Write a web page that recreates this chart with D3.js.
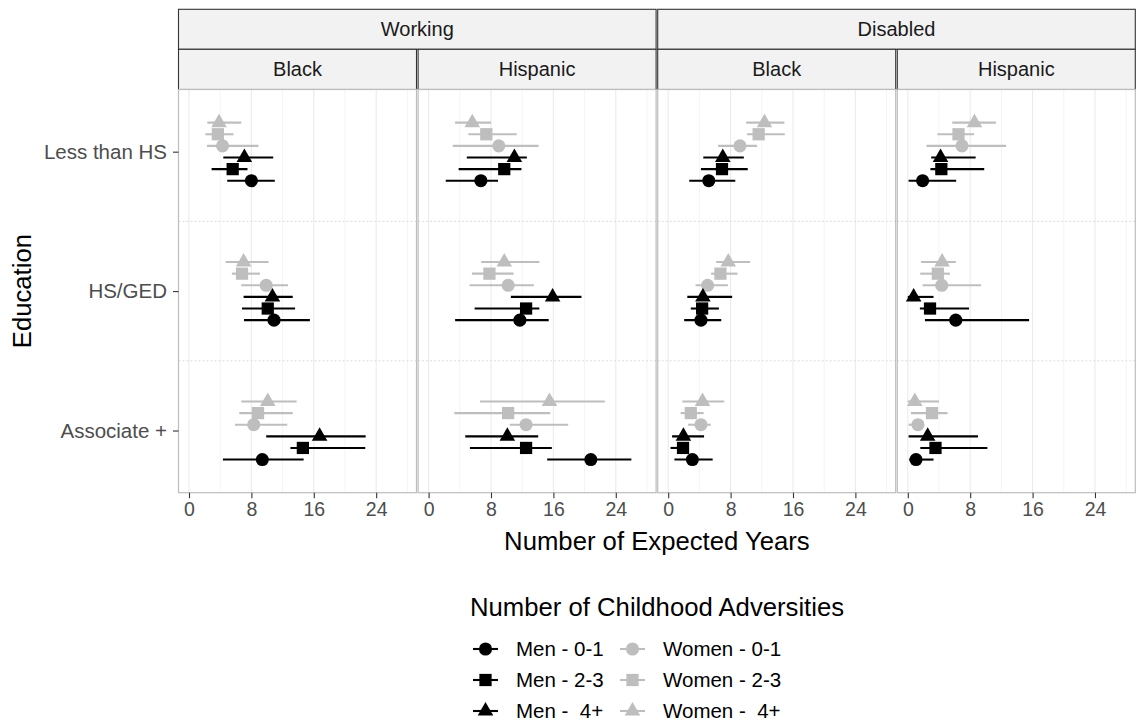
<!DOCTYPE html>
<html>
<head>
<meta charset="utf-8">
<script src="https://cdn.jsdelivr.net/npm/d3@7"></script>
<style>
  body { margin: 0; background: #fff; }
  svg { font-family: "Liberation Sans", Arial, sans-serif; }
  text { white-space: pre; }
</style>
</head>
<body>
<svg id="chart" width="1139" height="724"></svg>
<script>
// facet levels and categories
const status = ["Working", "Disabled"];
const race = ["Black", "Hispanic"];
const education = ["Less than HS", "HS/GED", "Associate +"];
const groups = ["Men - 0-1", "Men - 2-3", "Men -  4+", "Women - 0-1", "Women - 2-3", "Women -  4+"];
const xTicks = [0, 8, 16, 24];

// estimates and interval bounds, rows = education, columns = groups
const workingBlackEst = [[8.0, 5.6, 7.1, 4.3, 3.7, 3.85], [10.9, 10.1, 10.7, 9.9, 6.8, 7.0], [9.4, 14.6, 16.75, 8.3, 8.85, 10.1]];
const workingBlackLo  = [[4.9, 2.9, 4.4, 2.3, 2.1, 2.35], [7.05, 6.8, 7.0, 6.7, 5.5, 4.7], [4.35, 13.0, 9.9, 5.9, 6.45, 6.7]];
const workingBlackHi  = [[11.0, 7.5, 10.8, 8.9, 5.7, 6.7], [15.5, 13.6, 13.3, 12.7, 9.1, 10.2], [14.7, 22.6, 22.65, 12.6, 13.3, 13.8]];

const workingHispEst = [[6.7, 9.7, 11.0, 9.0, 7.4, 5.6], [11.7, 12.5, 15.9, 10.2, 7.8, 9.7], [20.8, 12.5, 10.1, 12.5, 10.2, 15.5]];
const workingHispLo  = [[2.2, 3.85, 4.9, 3.1, 5.1, 3.4], [3.4, 5.9, 10.55, 5.25, 5.55, 6.75], [15.2, 5.3, 4.7, 10.4, 3.3, 6.6]];
const workingHispHi  = [[8.9, 11.9, 12.6, 14.1, 11.3, 8.0], [15.4, 14.2, 19.6, 13.5, 10.9, 14.2], [26.0, 15.8, 14.05, 17.9, 15.6, 22.6]];

const disabledBlackEst = [[5.2, 6.9, 7.0, 9.2, 11.6, 12.35], [4.2, 4.35, 4.45, 5.05, 6.7, 7.7], [3.1, 1.9, 1.95, 4.2, 2.9, 4.4]];
const disabledBlackLo  = [[2.7, 4.2, 4.5, 6.4, 10.1, 10.0], [2.05, 2.9, 2.45, 3.5, 5.5, 6.15], [0.8, 0.3, 0.5, 2.55, 1.6, 1.8]];
const disabledBlackHi  = [[8.6, 10.2, 9.7, 11.4, 14.95, 14.9], [6.8, 6.5, 8.2, 7.65, 8.9, 10.5], [5.7, 2.6, 4.6, 5.45, 4.55, 7.2]];

const disabledHispEst = [[1.9, 4.3, 4.2, 6.95, 6.5, 8.55], [6.15, 2.85, 0.75, 4.35, 3.85, 4.4], [1.05, 3.55, 2.55, 1.3, 3.1, 0.9]];
const disabledHispLo  = [[0.1, 2.9, 3.0, 2.4, 3.8, 5.7], [2.2, 1.55, 0.0, 1.9, 1.6, 1.7], [0.2, 1.6, 0.1, 0.1, 0.4, 0.0]];
const disabledHispHi  = [[6.2, 9.8, 8.7, 12.6, 8.5, 11.3], [15.55, 7.85, 3.3, 9.4, 5.4, 6.15], [3.3, 10.2, 9.0, 1.85, 5.1, 4.0]];

const panels = [
  { status: "Working", race: "Black", est: workingBlackEst, lo: workingBlackLo, hi: workingBlackHi },
  { status: "Working", race: "Hispanic", est: workingHispEst, lo: workingHispLo, hi: workingHispHi },
  { status: "Disabled", race: "Black", est: disabledBlackEst, lo: disabledBlackLo, hi: disabledBlackHi },
  { status: "Disabled", race: "Hispanic", est: disabledHispEst, lo: disabledHispLo, hi: disabledHispHi }
];

// layout
const panelLeft = 178.5, panelTop = 89.5, panelW = 238, panelH = 403.2, gap = 1.6;
const stripTop = 9.3, stripH = 40;

const svg = d3.select("#chart");

const x = d3.scaleLinear().domain([-1.346, 29.17]).range([0, panelW]);
const y = d3.scalePoint().domain(education).range([0, panelH]).padding(0.446);
// top to bottom order inside each category
const dodgeOrder = ["Women -  4+", "Women - 2-3", "Women - 0-1", "Men -  4+", "Men - 2-3", "Men - 0-1"];
const dodge = d3.scaleBand().domain(dodgeOrder).range([-y.step() / 4, y.step() / 4]);

const colour = d3.scaleOrdinal().domain(groups).range(["#000", "#000", "#000", "#bebebe", "#bebebe", "#bebebe"]);
const shape = d3.scaleOrdinal().domain(groups)
  .range([d3.symbolCircle, d3.symbolSquare, d3.symbolTriangle, d3.symbolCircle, d3.symbolSquare, d3.symbolTriangle]);
const shapeSize = d => d === d3.symbolCircle ? 135 : d === d3.symbolSquare ? 150 : 105;
const sym = g => d3.symbol().type(shape(g)).size(shapeSize(shape(g)))();

// strips
status.forEach((s, i) => {
  const sx = panelLeft + i * 2 * (panelW + gap);
  svg.append("rect").attr("x", sx).attr("y", stripTop)
    .attr("width", 2 * panelW + gap).attr("height", stripH)
    .attr("fill", "#f2f2f2").attr("stroke", "#333").attr("stroke-width", 1.1);
  svg.append("text").attr("x", sx + panelW + gap / 2).attr("y", stripTop + stripH / 2)
    .attr("dy", "0.35em").attr("text-anchor", "middle")
    .attr("font-size", 20).attr("fill", "#1a1a1a").text(s);
});

panels.forEach((p, i) => {
  const px = panelLeft + i * (panelW + gap);

  // second strip
  svg.append("rect").attr("x", px).attr("y", stripTop + stripH)
    .attr("width", panelW).attr("height", panelTop - stripTop - stripH)
    .attr("fill", "#f2f2f2").attr("stroke", "#333").attr("stroke-width", 1.1);
  svg.append("text").attr("x", px + panelW / 2).attr("y", (stripTop + stripH + panelTop) / 2)
    .attr("dy", "0.35em").attr("text-anchor", "middle")
    .attr("font-size", 20).attr("fill", "#1a1a1a").text(p.race);

  const g = svg.append("g").attr("transform", `translate(${px},${panelTop})`);
  g.append("rect").attr("width", panelW).attr("height", panelH).attr("fill", "#fff");

  // grid
  const minor = [4, 12, 20, 28];
  g.selectAll(".minor").data(minor).enter().append("line")
    .attr("x1", d => x(d)).attr("x2", d => x(d)).attr("y1", 0).attr("y2", panelH)
    .attr("stroke", "#f4f4f4").attr("stroke-width", 1);
  g.selectAll(".major").data(xTicks).enter().append("line")
    .attr("x1", d => x(d)).attr("x2", d => x(d)).attr("y1", 0).attr("y2", panelH)
    .attr("stroke", "#ebebeb").attr("stroke-width", 1.1);
  const mids = education.slice(1).map((e, k) => (y(e) + y(education[k])) / 2);
  g.selectAll(".sep").data(mids).enter().append("line")
    .attr("x1", 0).attr("x2", panelW).attr("y1", d => d).attr("y2", d => d)
    .attr("stroke", "#dcdcdc").attr("stroke-width", 1).attr("stroke-dasharray", "2,2");

  // rows of data
  const rows = [];
  education.forEach((e, r) => groups.forEach((gr, c) => {
    rows.push({ edu: e, group: gr, est: p.est[r][c], lo: p.lo[r][c], hi: p.hi[r][c] });
  }));
  const cy = d => y(d.edu) + dodge(d.group) + dodge.bandwidth() / 2;

  // women first so men draw on top
  const ordered = rows.slice().sort((a, b) => (a.group.startsWith("Men") ? 1 : 0) - (b.group.startsWith("Men") ? 1 : 0));

  ordered.forEach(d => {
    g.append("line")
      .attr("x1", x(d.lo)).attr("x2", x(d.hi)).attr("y1", cy(d)).attr("y2", cy(d))
      .attr("stroke", colour(d.group)).attr("stroke-width", 2.1);
    g.append("path").attr("d", sym(d.group))
      .attr("transform", `translate(${x(d.est)},${cy(d)})`)
      .attr("fill", colour(d.group));
  });

  g.append("rect").attr("width", panelW).attr("height", panelH)
    .attr("fill", "none").attr("stroke", "#bdbdbd").attr("stroke-width", 1.2);

  // x axis
  const xa = svg.append("g").attr("transform", `translate(${px},${panelTop + panelH})`)
    .call(d3.axisBottom(x).tickValues(xTicks).tickSize(5.5).tickPadding(4));
  xa.select(".domain").remove();
  xa.selectAll(".tick line").attr("stroke", "#333").attr("stroke-width", 1.1);
  xa.selectAll(".tick text").attr("font-size", 19.5).attr("fill", "#4d4d4d")
    .attr("font-family", "Liberation Sans, Arial, sans-serif");

  if (i === 0) {
    const ya = svg.append("g").attr("transform", `translate(${px},${panelTop})`)
      .call(d3.axisLeft(y).tickSize(5.5).tickPadding(6));
    ya.select(".domain").remove();
    ya.selectAll(".tick line").attr("stroke", "#333").attr("stroke-width", 1.1);
    ya.selectAll(".tick text").attr("font-size", 20.5).attr("fill", "#4d4d4d")
      .attr("font-family", "Liberation Sans, Arial, sans-serif");
  }
});

// axis titles
const plotRight = panelLeft + 4 * panelW + 3 * gap;
svg.append("text").attr("x", (panelLeft + plotRight) / 2).attr("y", 550)
  .attr("text-anchor", "middle").attr("font-size", 25.7).attr("fill", "#000")
  .text("Number of Expected Years");
svg.append("text").attr("transform", `translate(31,${panelTop + panelH / 2}) rotate(-90)`)
  .attr("text-anchor", "middle").attr("font-size", 25.7).attr("fill", "#000")
  .text("Education");

// legend
const legend = svg.append("g");
legend.append("text").attr("x", 470).attr("y", 616).attr("font-size", 25.7).attr("fill", "#000")
  .text("Number of Childhood Adversities");
const legRows = [649, 680, 711];
const legCols = [473, 620];
groups.forEach((gr, k) => {
  const col = Math.floor(k / 3), row = k % 3;
  const lx = legCols[col], ly = legRows[row];
  legend.append("line").attr("x1", lx).attr("x2", lx + 25).attr("y1", ly).attr("y2", ly)
    .attr("stroke", colour(gr)).attr("stroke-width", 2.1);
  legend.append("path").attr("d", sym(gr)).attr("transform", `translate(${lx + 12.5},${ly})`)
    .attr("fill", colour(gr));
  legend.append("text").attr("x", lx + 43).attr("y", ly).attr("dy", "0.35em")
    .attr("font-size", 20.5).attr("fill", "#000").text(gr);
});
</script>
</body>
</html>
